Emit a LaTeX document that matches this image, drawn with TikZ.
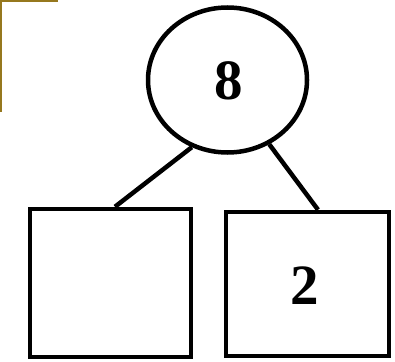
\documentclass[tikz,border=0pt]{standalone}
\usepackage{fontspec}
\setmainfont{Liberation Serif}
\usetikzlibrary{shapes.geometric}
\definecolor{edgebrown}{RGB}{150,120,30}
\begin{document}
\begin{tikzpicture}[x=1pt,y=-1pt,
  shapeline/.style={draw=black,line width=4.5pt},
  digit/.style={font=\fontsize{57}{57}\selectfont\bfseries}]
\useasboundingbox (0,0) rectangle (395,361);
\fill[white] (0,0) rectangle (395,361);
\fill[edgebrown] (0,0) rectangle (1.8,112);
\fill[edgebrown] (0,0) rectangle (58,1.8);
\node[shapeline,ellipse,minimum width=159pt,minimum height=145pt,inner sep=0pt] (top) at (227.5,80) {};
\node[digit] (eight) at (229,81) {8};
\node[shapeline,rectangle,minimum width=161pt,minimum height=148pt,inner sep=0pt] (lbox) at (110.5,283) {};
\node[shapeline,rectangle,minimum width=163pt,minimum height=144pt,inner sep=0pt] (rbox) at (307.5,284) {};
\node[digit] (two) at (305,286) {2};
\coordinate (lt) at ([xshift=4.5pt]lbox.north);
\coordinate (rt) at ([xshift=10.5pt]rbox.north);
\draw[line width=4.5pt] (top.-118) -- (lt);
\draw[line width=4.5pt] (top.-57) -- (rt);
\end{tikzpicture}
\end{document}
